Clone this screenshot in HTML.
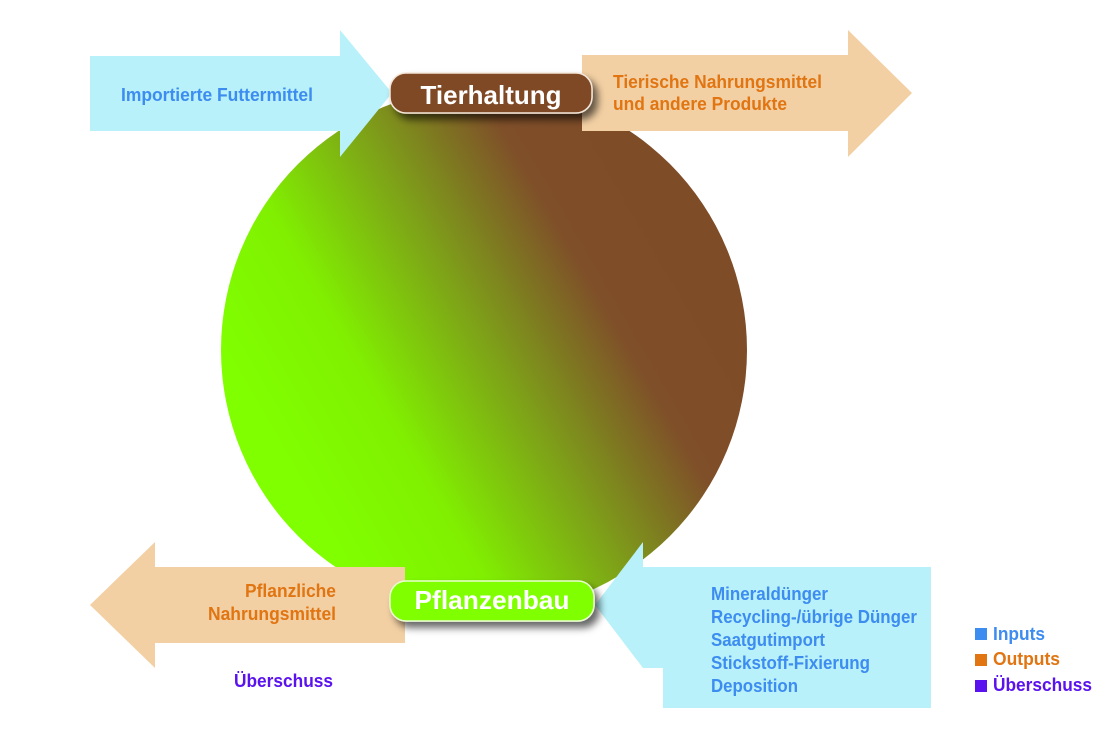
<!DOCTYPE html>
<html><head><meta charset="utf-8"><style>
html,body{margin:0;padding:0;background:#fff;}
svg{display:block;}
text{font-family:"Liberation Sans",sans-serif;font-weight:bold;}
</style></head><body>
<svg width="1116" height="738" viewBox="0 0 1116 738" xmlns="http://www.w3.org/2000/svg">
<defs>
<linearGradient id="g" x1="300" y1="480" x2="680" y2="260" gradientUnits="userSpaceOnUse">
<stop offset="0" stop-color="#80ff00"/>
<stop offset="0.25" stop-color="#80f000"/>
<stop offset="0.55" stop-color="#7e9a1a"/>
<stop offset="0.8" stop-color="#7f4f29"/>
<stop offset="1" stop-color="#7f4c28"/>
</linearGradient>
<filter id="sh" x="-20%" y="-40%" width="150%" height="200%">
<feDropShadow dx="5" dy="6" stdDeviation="4" flood-color="#000" flood-opacity="0.6"/>
</filter>
</defs>
<circle cx="484" cy="350" r="263" fill="url(#g)"/>
<!-- top-left input arrow -->
<polygon points="90,56 340,56 340,30 392,93 340,157 340,131 90,131" fill="#b8f1fa"/>
<!-- top-right output arrow -->
<polygon points="582,55 848,55 848,30 912,93 848,157 848,131 582,131" fill="#f3d0a4"/>
<!-- bottom-left output arrow -->
<polygon points="405,567 155,567 155,542 90,605 155,668 155,643 405,643" fill="#f3d0a4"/>
<!-- bottom-right input arrow -->
<polygon points="931,567 643,567 643,542 595,605 643,668 643,708 931,708" fill="#b8f1fa"/>
<polygon points="643,668 663,668 663,708 643,708" fill="#fff"/>
<!-- pills -->
<rect x="390" y="73" width="202" height="40" rx="16" fill="#7f4a28" stroke="#f3e6d8" stroke-width="1.5" filter="url(#sh)"/>
<text x="491" y="104" font-size="26" fill="#fff" text-anchor="middle" textLength="141" lengthAdjust="spacingAndGlyphs">Tierhaltung</text>
<rect x="390" y="581" width="204" height="40" rx="16" fill="#80ff00" stroke="#e8ffd0" stroke-width="1.5" filter="url(#sh)"/>
<text x="492" y="609" font-size="26" fill="#fff" text-anchor="middle" textLength="155" lengthAdjust="spacingAndGlyphs">Pflanzenbau</text>
<!-- labels -->
<g fill="#3d8cf0" font-size="18">
<text x="121" y="101" textLength="192" lengthAdjust="spacingAndGlyphs">Importierte Futtermittel</text>
<text x="711" y="600" textLength="117" lengthAdjust="spacingAndGlyphs">Mineraldünger</text>
<text x="711" y="623" textLength="206" lengthAdjust="spacingAndGlyphs">Recycling-/übrige Dünger</text>
<text x="711" y="646" textLength="114" lengthAdjust="spacingAndGlyphs">Saatgutimport</text>
<text x="711" y="669" textLength="159" lengthAdjust="spacingAndGlyphs">Stickstoff-Fixierung</text>
<text x="711" y="692" textLength="87" lengthAdjust="spacingAndGlyphs">Deposition</text>
<text x="993" y="640" textLength="52" lengthAdjust="spacingAndGlyphs">Inputs</text>
</g>
<g fill="#e07512" font-size="18">
<text x="613" y="88" textLength="209" lengthAdjust="spacingAndGlyphs">Tierische Nahrungsmittel</text>
<text x="613" y="110" textLength="174" lengthAdjust="spacingAndGlyphs">und andere Produkte</text>
<text x="245" y="597" textLength="91" lengthAdjust="spacingAndGlyphs">Pflanzliche</text>
<text x="208" y="620" textLength="128" lengthAdjust="spacingAndGlyphs">Nahrungsmittel</text>
<text x="993" y="665" textLength="67" lengthAdjust="spacingAndGlyphs">Outputs</text>
</g>
<g fill="#5a12ee" font-size="18">
<text x="234" y="687" textLength="99" lengthAdjust="spacingAndGlyphs">Überschuss</text>
<text x="993" y="691" textLength="99" lengthAdjust="spacingAndGlyphs">Überschuss</text>
</g>
<rect x="975" y="628" width="12" height="12" fill="#3d8cf0"/>
<rect x="975" y="654" width="12" height="12" fill="#e07512"/>
<rect x="975" y="680" width="12" height="12" fill="#5a12ee"/>
</svg>
</body></html>
